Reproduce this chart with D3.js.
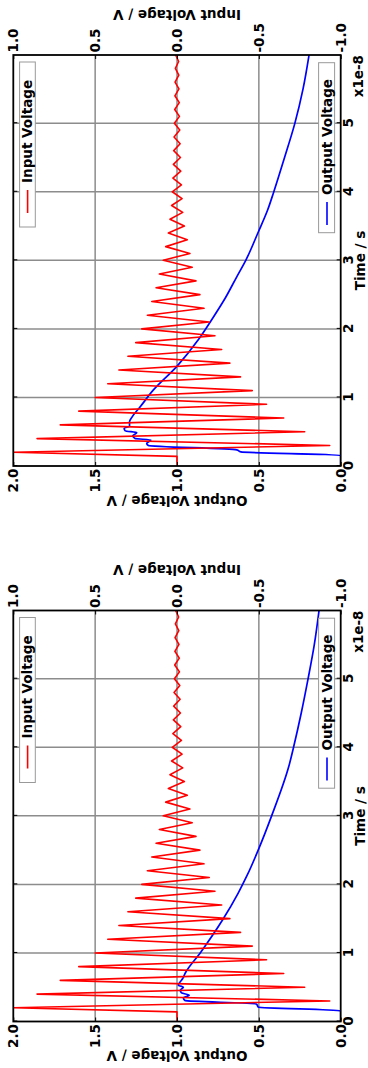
<!DOCTYPE html>
<html>
<head>
<meta charset="utf-8">
<script src="https://cdn.jsdelivr.net/npm/d3@7/dist/d3.min.js"></script>
<style>
  html, body { margin: 0; padding: 0; background: #fff; }
  svg text { font-family: "DejaVu Sans", sans-serif; font-weight: bold; font-size: 13.5px; fill: #000; }
</style>
</head>
<body>
<div id="chart"></div>
<script>
// -------------------------------------------------------------------------
// Data (time in units of 1e-8 s)

// input voltage, shared by both panels (right axis)
const inputTime = [0, 0.14,
  0.2, 0.3, 0.4, 0.5, 0.6, 0.7, 0.8, 0.9, 1.0, 1.1,
  1.2, 1.3, 1.4, 1.5, 1.6, 1.7, 1.8, 1.9, 2.0, 2.1,
  2.2, 2.3, 2.4, 2.5, 2.6, 2.7, 2.8, 2.9, 3.0, 3.1,
  3.2, 3.3, 3.4, 3.5, 3.6, 3.7, 3.8, 3.9, 4.0, 4.1,
  4.2, 4.3, 4.4, 4.5, 4.6, 4.7, 4.8, 4.9, 5.0, 5.1,
  5.2, 5.3, 5.4, 5.5, 5.6, 5.7, 5.8, 5.9, 6.0];
const inputVolts = [0, 0,
  1.0, -0.933, 0.855, -0.78, 0.713, -0.652, 0.60, -0.547, 0.50, -0.46,
  0.423, -0.388, 0.355, -0.323, 0.30, -0.273, 0.252, -0.232, 0.215, -0.197,
  0.181, -0.165, 0.154, -0.14, 0.128, -0.116, 0.108, -0.093, 0.084, -0.079,
  0.069, -0.063, 0.053, -0.045, 0.043, -0.035, 0.033, -0.031, 0.029, -0.027,
  0.025, -0.023, 0.022, -0.021, 0.020, -0.019, 0.018, -0.017, 0.016, -0.015,
  0.014, -0.014, 0.013, -0.012, 0.012, -0.011, 0.010, -0.010, 0.009];

// output voltage, upper panel (left axis)
const outputTimeA = [0, 0.155, 0.205, 0.235, 0.30, 0.33, 0.38, 0.40, 0.44, 0.485,
  0.515, 0.55, 0.58, 0.645, 0.71, 0.86, 1.11, 1.45, 1.84, 2.13,
  2.45, 2.76, 3.0, 3.41, 3.73, 3.99, 4.5, 4.99, 5.5, 6.0];
const outputVoltsA = [0, 0, 0.61, 0.635, 1.175, 1.185, 1.16, 1.256, 1.27, 1.246,
  1.317, 1.323, 1.29, 1.29, 1.276, 1.226, 1.144, 1.002, 0.87, 0.789,
  0.705, 0.635, 0.58, 0.504, 0.447, 0.41, 0.343, 0.281, 0.23, 0.193];

// output voltage, lower panel (left axis)
const outputTimeB = [0, 0.155, 0.21, 0.255, 0.306, 0.344, 0.383, 0.417, 0.456, 0.50,
  0.53, 0.56, 0.627, 0.70, 1.01, 1.48, 1.87, 2.13, 2.5, 3.0,
  3.73, 4.0, 4.5, 4.99, 5.5, 6.0];
const outputVoltsB = [0, 0, 0.504, 0.514, 0.951, 0.961, 0.925, 0.972, 0.98, 0.961,
  0.992, 0.986, 0.965, 0.951, 0.855, 0.722, 0.627, 0.572, 0.504, 0.422,
  0.316, 0.288, 0.241, 0.2, 0.161, 0.132];

const timeTicks = [0, 1, 2, 3, 4, 5];
const outputTicks = [0.0, 0.5, 1.0, 1.5, 2.0];
const inputTicks = [-1.0, -0.5, 0.0, 0.5, 1.0];

const timeLabel = 'Time / s';
const timeOffsetLabel = 'x1e-8';
const outputLabel = 'Output Voltage / V';
const inputLabel = 'Input Voltage / V';
const inputLegend = 'Input Voltage';
const outputLegend = 'Output Voltage';

// -------------------------------------------------------------------------
// Layout

const width = 368;
const height = 1068;
const plotLeft = 13.3;
const plotDepth = 327.4;   // voltage direction (across the page)
const plotLength = 411;    // time direction (down the page)
const timeMax = 5.995;
const gridColor = '#8c8c8c';

const panels = [
  {bottom: 466, time: outputTimeA, volts: outputVoltsA},
  {bottom: 1021.5, time: outputTimeB, volts: outputVoltsB}
];

const svg = d3.select('#chart').append('svg')
  .attr('width', width)
  .attr('height', height)
  .style('display', 'block');

svg.append('rect').attr('width', width).attr('height', height).attr('fill', '#fff');

panels.forEach((p, i) => drawPanel(i, p.bottom, p.time, p.volts));

// -------------------------------------------------------------------------
// Methods

function drawPanel(index, bottom, outTime, outVolts) {
  const x = d3.scaleLinear().domain([0, timeMax]).range([0, plotLength]);
  const yOut = d3.scaleLinear().domain([0, 2]).range([plotDepth, 0]);
  const yIn = d3.scaleLinear().domain([-1, 1]).range([plotDepth, 0]);

  // the plot is laid out as a normal time chart, then turned a quarter turn
  const g = svg.append('g')
    .attr('transform', `translate(${plotLeft},${bottom}) rotate(-90)`);

  const clipId = 'clip-' + index;
  g.append('clipPath').attr('id', clipId)
    .append('rect')
    .attr('width', plotLength)
    .attr('height', plotDepth);

  // grid
  g.append('g').selectAll('line')
    .data(outputTicks.slice(1, -1))
    .enter().append('line')
    .attr('x1', 0).attr('x2', plotLength)
    .attr('y1', d => yOut(d)).attr('y2', d => yOut(d))
    .attr('stroke', gridColor).attr('stroke-width', 1.5);
  g.append('g').selectAll('line')
    .data(timeTicks.slice(1))
    .enter().append('line')
    .attr('x1', d => x(d)).attr('x2', d => x(d))
    .attr('y1', 0).attr('y2', plotDepth)
    .attr('stroke', gridColor).attr('stroke-width', 1.5);

  // curves
  const lineOut = d3.line().x(d => x(d[0])).y(d => yOut(d[1])).curve(d3.curveMonotoneX);
  const lineIn = d3.line().x(d => x(d[0])).y(d => yIn(d[1]));

  g.append('path')
    .datum(d3.zip(outTime, outVolts))
    .attr('clip-path', `url(#${clipId})`)
    .attr('d', lineOut)
    .attr('fill', 'none')
    .attr('stroke', '#0000ff')
    .attr('stroke-width', 1.7)
    .attr('stroke-linejoin', 'round');

  g.append('path')
    .datum(d3.zip(inputTime, inputVolts))
    .attr('clip-path', `url(#${clipId})`)
    .attr('d', lineIn)
    .attr('fill', 'none')
    .attr('stroke', '#ff0000')
    .attr('stroke-width', 1.6)
    .attr('stroke-linejoin', 'round');

  // axes, ticks pointing inward
  const fmt = d => d.toFixed(1);
  g.append('g')
    .attr('transform', `translate(0,${plotDepth})`)
    .call(d3.axisBottom(x).tickValues(timeTicks).tickSize(-4).tickSizeOuter(0)
      .tickPadding(2.5).tickFormat(d3.format('d')));
  g.append('g')
    .call(d3.axisTop(x).tickValues(timeTicks).tickSize(-4).tickSizeOuter(0).tickFormat(''));
  g.append('g')
    .call(d3.axisLeft(yOut).tickValues(outputTicks).tickSize(-4).tickSizeOuter(0)
      .tickPadding(2.5).tickFormat(fmt));
  g.append('g')
    .attr('transform', `translate(${plotLength},0)`)
    .call(d3.axisRight(yIn).tickValues(inputTicks).tickSize(-4).tickSizeOuter(0)
      .tickPadding(2.5).tickFormat(fmt));
  g.selectAll('.domain').remove();
  g.selectAll('.tick line').attr('stroke', '#000').attr('stroke-width', 1);

  g.append('rect')
    .attr('width', plotLength)
    .attr('height', plotDepth)
    .attr('fill', 'none')
    .attr('stroke', '#000')
    .attr('stroke-width', 1.8);

  // legends
  drawLegend(g, 239, 6.3, 165, 15.7, 14.3, 253, '#ff0000', inputLegend);
  drawLegend(g, 233.3, 305.3, 170, 16, 313.7, 241, '#0000ff', outputLegend);

  // axis titles
  g.append('text')
    .attr('x', plotLength / 2)
    .attr('y', plotDepth + 24.1)
    .attr('text-anchor', 'middle')
    .text(timeLabel);
  g.append('text')
    .attr('x', plotLength)
    .attr('y', plotDepth + 22.6)
    .attr('text-anchor', 'end')
    .text(timeOffsetLabel);
  g.append('text')
    .attr('transform', `translate(-29.5,${plotDepth / 2}) rotate(-90)`)
    .attr('text-anchor', 'middle')
    .text(outputLabel);
  g.append('text')
    .attr('transform', `translate(${plotLength + 45.5},${plotDepth / 2}) rotate(-90)`)
    .attr('text-anchor', 'middle')
    .text(inputLabel);
}

function drawLegend(g, bx, by, bw, bh, lineY, lineX, color, label) {
  const lg = g.append('g').attr('class', 'legend');
  lg.append('rect')
    .attr('x', bx).attr('y', by)
    .attr('width', bw).attr('height', bh)
    .attr('fill', '#fff')
    .attr('stroke', '#999')
    .attr('stroke-width', 1);
  lg.append('line')
    .attr('x1', lineX).attr('x2', lineX + 23)
    .attr('y1', lineY).attr('y2', lineY)
    .attr('stroke', color)
    .attr('stroke-width', 1.6);
  lg.append('text')
    .attr('x', lineX + 30)
    .attr('y', lineY + 4.7)
    .text(label);
}
</script>
</body>
</html>
